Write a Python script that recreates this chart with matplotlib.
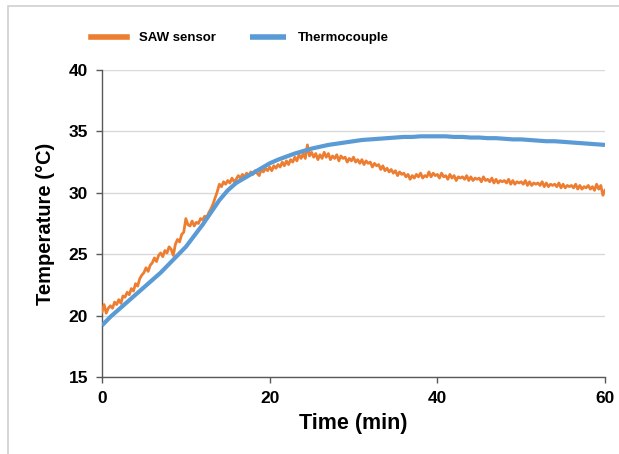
import matplotlib.pyplot as plt
import matplotlib
from matplotlib.patches import Rectangle

matplotlib.rcParams['font.family'] = ['Liberation Sans', 'DejaVu Sans']

# thermocouple, smooth curve (every 1 min)
tc_time = list(range(0, 61))
tc_temp = [19.2, 19.9, 20.5, 21.1, 21.7, 22.3, 22.9, 23.5, 24.2, 24.9,
           25.6, 26.5, 27.4, 28.4, 29.4, 30.2, 30.8, 31.2, 31.6, 32.0,
           32.4, 32.7, 32.95, 33.2, 33.4, 33.6, 33.75, 33.9, 34.0, 34.1,
           34.2, 34.3, 34.35, 34.4, 34.45, 34.5, 34.55, 34.55, 34.6, 34.6,
           34.6, 34.6, 34.55, 34.55, 34.5, 34.5, 34.45, 34.45, 34.4, 34.35,
           34.35, 34.3, 34.25, 34.2, 34.2, 34.15, 34.1, 34.05, 34.0, 33.95,
           33.9]

# SAW sensor, noisy readings (every 0.25 min, one row = 5 min)
saw_time = [i * 0.25 for i in range(241)]
saw_temp = [20.3, 20.9, 20.2, 20.6, 20.8, 20.6, 21.1, 20.9, 21.3, 21.0,
            21.6, 21.5, 21.9, 21.7, 22.2, 22.0, 22.6, 22.4, 23.0, 23.3,
            23.5, 23.9, 23.6, 24.1, 24.3, 24.7, 24.4, 24.9, 25.1, 24.8,
            25.3, 25.1, 25.6, 25.4, 24.9, 25.8, 26.2, 26.0, 26.6, 26.8,
            27.9, 27.4, 27.3, 27.7, 27.3, 27.6, 27.5, 27.9, 27.8, 28.1,
            28.0, 28.4, 28.7, 29.1, 29.6, 30.1, 30.7, 30.5, 30.9, 30.7,
            31.0, 30.8, 31.2, 30.9, 31.1, 31.4, 31.2, 31.5, 31.3, 31.6,
            31.4, 31.7, 31.5, 31.8, 31.6, 31.4, 31.9, 31.7, 32.0, 31.8,
            32.1, 31.8, 32.2, 32.0, 32.3, 32.1, 32.5, 32.2, 32.6, 32.3,
            32.7, 32.5, 32.9, 32.6, 33.1, 32.8, 33.2, 32.8, 33.9, 33.0,
            33.3, 32.9, 33.2, 32.7, 33.1, 32.8, 33.3, 32.9, 33.2, 32.7,
            33.0, 32.8, 33.1, 32.6, 33.0, 32.8, 32.9, 32.5, 32.8, 32.6,
            32.9, 32.5, 32.7, 32.4, 32.7, 32.3, 32.6, 32.4, 32.5, 32.1,
            32.4, 32.2, 32.3, 31.9, 32.2, 31.8, 32.0, 31.7, 31.9, 31.6,
            31.8, 31.4, 31.7, 31.5, 31.6, 31.3, 31.5, 31.1, 31.4, 31.2,
            31.5, 31.3, 31.6, 31.2, 31.4, 31.3, 31.7, 31.3, 31.6, 31.4,
            31.5, 31.2, 31.6, 31.3, 31.4, 31.1, 31.5, 31.2, 31.4, 31.0,
            31.3, 31.2, 31.3, 31.1, 31.4, 31.0, 31.3, 31.0, 31.2, 31.1,
            31.2, 30.9, 31.3, 31.0, 31.1, 30.9, 31.2, 30.8, 31.1, 30.8,
            31.0, 30.9, 31.0, 30.8, 31.1, 30.7, 31.0, 30.7, 30.9, 30.8,
            30.9, 30.7, 31.0, 30.6, 30.9, 30.6, 30.8, 30.7, 30.8, 30.6,
            30.9, 30.5, 30.8, 30.5, 30.7, 30.6, 30.7, 30.5, 30.8, 30.4,
            30.7, 30.4, 30.6, 30.5, 30.6, 30.4, 30.7, 30.3, 30.6, 30.3,
            30.5, 30.4, 30.6, 30.3, 30.5, 30.2, 30.7, 30.3, 30.6, 29.8,
            30.2]

fig = plt.figure(figsize=(6.19, 4.54), dpi=100)
ax = fig.add_axes([0.1648, 0.1696, 0.8126, 0.6762])

ax.plot(saw_time, saw_temp, color='#ED7D31', lw=2.0, label='SAW sensor', zorder=3)
ax.plot(tc_time, tc_temp, color='#5B9BD5', lw=3.0, label='Thermocouple', zorder=4,
        solid_capstyle='butt')

ax.set_xlim(0, 60)
ax.set_ylim(15, 40)
ax.set_xticks([0, 20, 40, 60])
ax.set_yticks([15, 20, 25, 30, 35, 40])
ax.grid(axis='y', color='#D9D9D9', lw=1.0)
ax.set_axisbelow(True)

for s in ['top', 'right']:
    ax.spines[s].set_visible(False)
for s in ['left', 'bottom']:
    ax.spines[s].set_color('#595959')
    ax.spines[s].set_linewidth(1.0)
ax.tick_params(direction='out', length=4, width=1.0, color='#595959',
               labelsize=12.5, pad=6)
for lab in ax.get_xticklabels() + ax.get_yticklabels():
    lab.set_fontweight('bold')

ax.set_xlabel('Time (min)', fontsize=15.5, fontweight='bold', labelpad=5)
ax.set_ylabel('Temperature (°C)', fontsize=14.5, fontweight='bold', labelpad=10)

leg = fig.legend(loc='center left', bbox_to_anchor=(0.137, 0.916), ncol=2,
                 frameon=False, borderpad=0, handlelength=2.7, handletextpad=0.9,
                 columnspacing=2.6, prop={'size': 9.5, 'weight': 'bold'})
for h in leg.get_lines():
    h.set_linewidth(4)

# light frame around the picture
fig.patches.append(Rectangle((0.013, -0.05), 1.05, 1.037, transform=fig.transFigure,
                             fill=False, edgecolor='#D0D0D0', lw=1.2))

fig.savefig('out.png', dpi=100)
